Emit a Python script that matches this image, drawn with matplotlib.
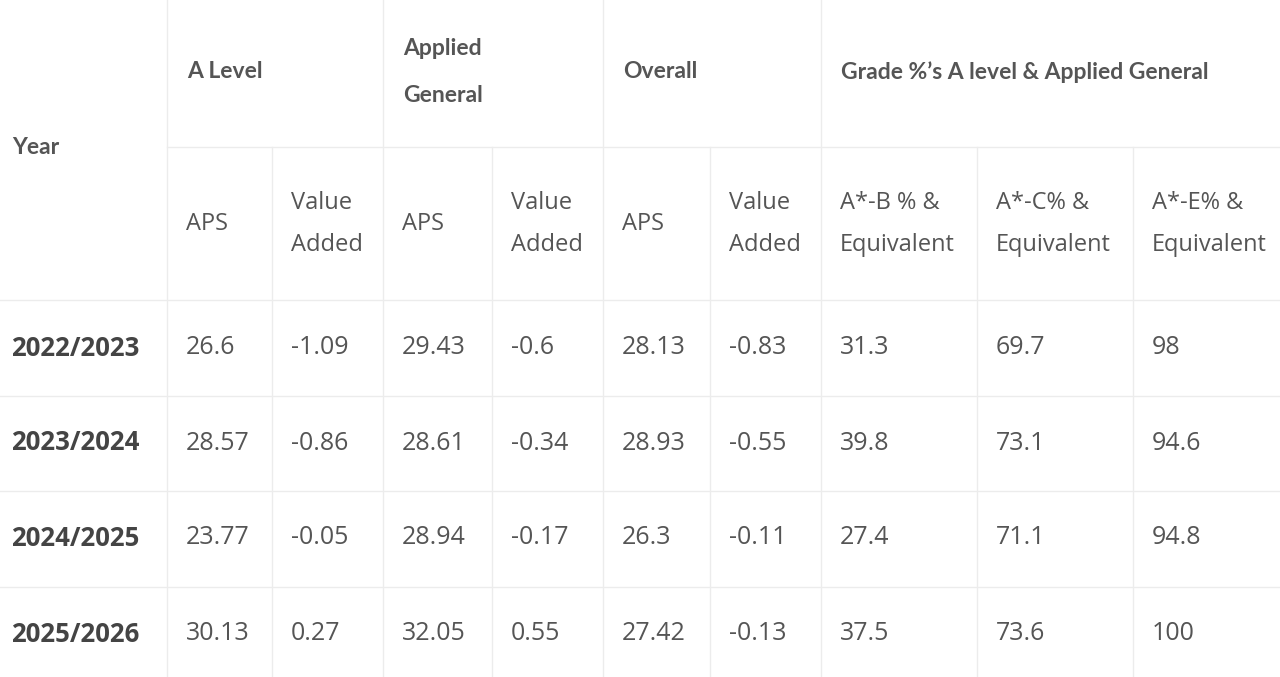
import matplotlib
matplotlib.use("Agg")
import matplotlib.pyplot as plt

years = ["2022/2023", "2023/2024", "2024/2025", "2025/2026"]
alevel_aps = ["26.6", "28.57", "23.77", "30.13"]
alevel_va = ["-1.09", "-0.86", "-0.05", "0.27"]
applied_aps = ["29.43", "28.61", "28.94", "32.05"]
applied_va = ["-0.6", "-0.34", "-0.17", "0.55"]
overall_aps = ["28.13", "28.93", "26.3", "27.42"]
overall_va = ["-0.83", "-0.55", "-0.11", "-0.13"]
ab = ["31.3", "39.8", "27.4", "37.5"]
ac = ["69.7", "73.1", "71.1", "73.6"]
ae = ["98", "94.6", "94.8", "100"]

groups = ["A Level", "Applied\nGeneral", "Overall", "Grade %’s A level & Applied General"]
subheads = ["APS", "Value\nAdded", "APS", "Value\nAdded", "APS", "Value\nAdded",
            "A*-B % &\nEquivalent", "A*-C% &\nEquivalent", "A*-E% &\nEquivalent"]

cols = [0, 167, 272, 383, 492, 603, 710, 821, 977, 1133, 1280]
group_x = [167, 383, 603, 821]
row_lines = [300, 396, 491, 587]
row_centers = [348, 443, 538, 634]

fig = plt.figure(figsize=(12.8, 6.77), dpi=100)
ax = fig.add_axes([0, 0, 1, 1])
ax.set_xlim(0, 1280); ax.set_ylim(677, 0); ax.axis("off")
lc = "#ececec"
for x in cols[1:-1]:
    top = 0 if x in group_x else 147
    ax.plot([x, x], [top, 677], color=lc, lw=1)
ax.plot([167, 1280], [147, 147], color=lc, lw=1)
for y in row_lines:
    ax.plot([0, 1280], [y, y], color=lc, lw=1)

hc = "#555555"; tc = "#555555"
ax.text(12, 148, "Year", fontsize=16.5, fontweight="bold", color=hc, va="center", family="Lato")
for g, x in zip(groups, group_x):
    ax.text(x + 20, 72, g, fontsize=16.5, fontweight="bold", color=hc, va="center",
            family="Lato", linespacing=2.5)
for i, s in enumerate(subheads):
    ax.text(cols[i + 1] + 19, 224, s, fontsize=17, color=tc, va="center",
            family="Open Sans", linespacing=2.05)
data = [alevel_aps, alevel_va, applied_aps, applied_va, overall_aps, overall_va, ab, ac, ae]
for r, yc in enumerate(row_centers):
    ax.text(11, yc, years[r], fontsize=18.5, fontweight="bold", color="#444444",
            va="center", family="Open Sans")
    for i, col in enumerate(data):
        ax.text(cols[i + 1] + 19, yc, col[r], fontsize=18, color=tc, va="center",
                family="Open Sans")
fig.savefig("out.png", dpi=100, facecolor="white")
